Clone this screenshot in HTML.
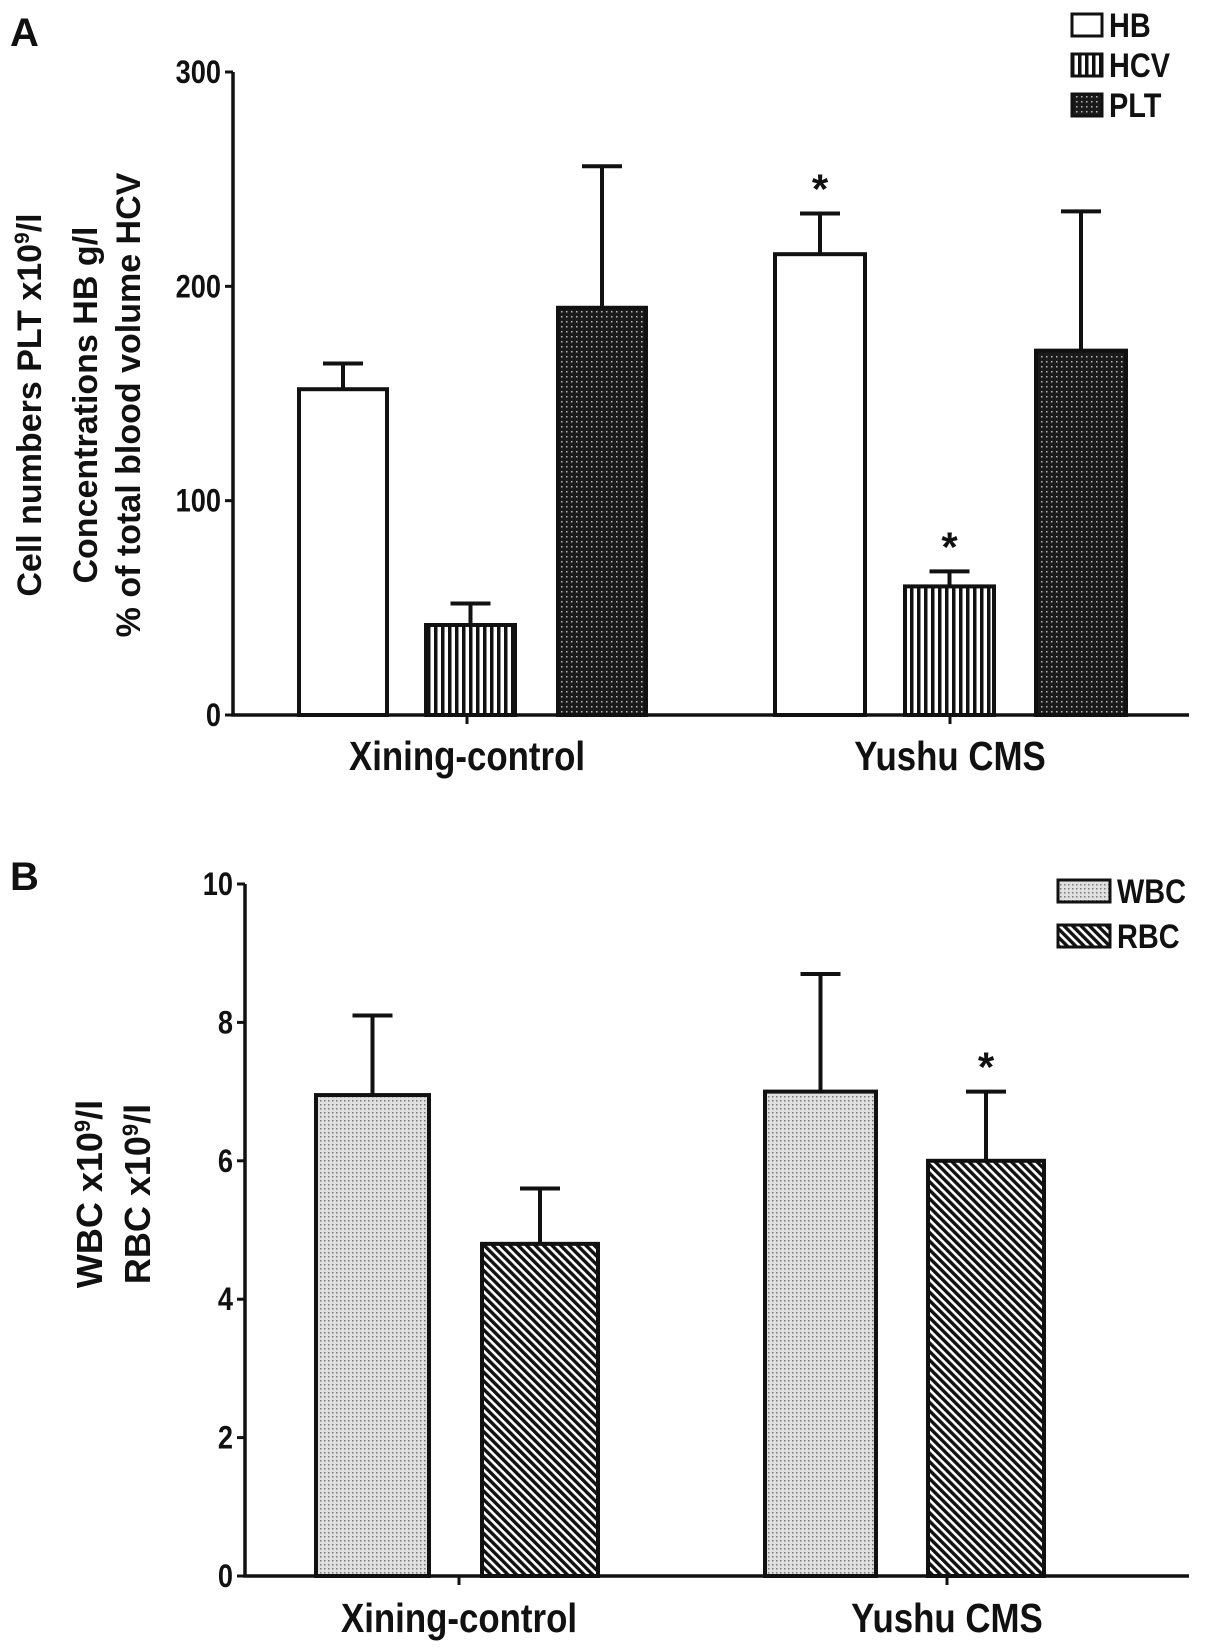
<!DOCTYPE html>
<html><head><meta charset="utf-8"><style>
html,body{margin:0;padding:0;background:#fff;}
svg{display:block;}
text{font-family:"Liberation Sans",Arial,sans-serif;font-weight:bold;fill:#111;}
</style></head><body>
<svg id="c" width="1205" height="1651" viewBox="0 0 1205 1651">
<defs>
<pattern id="pStripe" width="7" height="7" patternUnits="userSpaceOnUse"><rect width="7" height="7" fill="#fff"/><rect width="3.5" height="7" fill="#111"/></pattern>
<pattern id="pDark" width="5" height="5" patternUnits="userSpaceOnUse"><rect width="5" height="5" fill="#1a1a1a"/><rect x="1" y="1" width="1.5" height="1.5" fill="#bbb"/></pattern>
<pattern id="pLight" width="4" height="4" patternUnits="userSpaceOnUse"><rect width="4" height="4" fill="#e0e0e0"/><rect x="0" y="0" width="1.5" height="1.5" fill="#777"/></pattern>
<pattern id="pHatch" width="6" height="6" patternUnits="userSpaceOnUse" patternTransform="rotate(-45)"><rect width="6" height="6" fill="#fff"/><rect width="3.4" height="6" fill="#111"/></pattern>
</defs>
<g id="gA"></g>
<g id="gB"></g>
</svg>
<script>
// Panel A data
const catsA = ["Xining-control", "Yushu CMS"];
const seriesA = ["HB", "HCV", "PLT"];
const hbVals = [152, 215];
const hbErr = [164, 234];
const hcvVals = [42, 60];
const hcvErr = [52, 67];
const pltVals = [190, 170];
const pltErr = [256, 235];
const sigA = [[false, false, false], [true, true, false]];
const ticksA = [0, 100, 200, 300];
// Panel B data
const catsB = ["Xining-control", "Yushu CMS"];
const seriesB = ["WBC", "RBC"];
const wbcVals = [6.95, 7.0];
const wbcErr = [8.1, 8.7];
const rbcVals = [4.8, 6.0];
const rbcErr = [5.6, 7.0];
const sigB = [[false, false], [false, true]];
const ticksB = [0, 2, 4, 6, 8, 10];

const NS = "http://www.w3.org/2000/svg";
function mk(parent, tag, attrs, txt) {
  const e = document.createElementNS(NS, tag);
  for (const k in attrs) e.setAttribute(k, attrs[k]);
  if (txt !== undefined) e.textContent = txt;
  parent.appendChild(e);
  return e;
}

function drawPanel(g, cfg) {
  const y = v => cfg.y0 - (v - cfg.vmin) / (cfg.vmax - cfg.vmin) * (cfg.y0 - cfg.y1);
  let t = mk(g, "text", {x: 10, y: cfg.letterY, "font-size": 40}, cfg.letter);
  
  
  const yt = mk(g, "text", {"font-size": cfg.titleSize, "text-anchor": "middle", transform: `translate(0,${cfg.titleY}) rotate(-90)`});
  
  
  cfg.titleLines.forEach((ln, i) => {
    const ts = mk(yt, "tspan", {x: 0, y: cfg.titleX[i]});
    ts.innerHTML = ln;
  });
  cfg.series.forEach((s, si) => {
    cfg.cats.forEach((c, ci) => {
      const [x0, x1] = cfg.barX[ci][si];
      const v = cfg.vals[si][ci], e = cfg.errs[si][ci];
      const eb = mk(g, "path", {d: `M${(x0+x1)/2},${y(v)} V${y(e)} M${(x0+x1)/2-20},${y(e)} H${(x0+x1)/2+20}`, stroke: "#111", "stroke-width": 4, fill: "none"});
      
      
      const r = mk(g, "rect", {x: x0, y: y(v), width: x1 - x0, height: y(cfg.vmin) - y(v), fill: cfg.fills[si], stroke: "#111", "stroke-width": 4});
      
      
      if (cfg.sig[ci][si]) {
        const st = mk(g, "text", {x: (x0+x1)/2, y: y(e) - 10, "font-size": 42, "text-anchor": "middle"}, "*");
        
        
      }
    });
  });
  const ax = mk(g, "path", {d: `M${cfg.ax},${y(cfg.vmax)} V${cfg.y0} H${cfg.axEnd}`, stroke: "#111", "stroke-width": 3.5, fill: "none"});
  
  
  cfg.ticks.forEach(tv => {
    const tk = mk(g, "line", {x1: cfg.ax - 8, x2: cfg.ax, y1: y(tv), y2: y(tv), stroke: "#111", "stroke-width": 3});
    
    
    const tl = mk(g, "text", {x: (cfg.ax - 12) / 0.85, y: y(tv) + 11, "font-size": 32, "text-anchor": "end", transform: "scale(0.85,1)"}, tv);
    
    
  });
  cfg.cats.forEach((c, ci) => {
    const cx = cfg.catX[ci];
    const tk = mk(g, "line", {x1: cx, x2: cx, y1: cfg.y0, y2: cfg.y0 + 9, stroke: "#111", "stroke-width": 3});
    
    
    const tl = mk(g, "text", {x: cx / 0.85, y: cfg.labY, "font-size": 41, "text-anchor": "middle", transform: "scale(0.85,1)"}, c);
    
    
  });
  cfg.series.forEach((s, si) => {
    const [bx, by] = [cfg.legX, cfg.legY[si]];
    const lb = mk(g, "rect", {x: bx, y: by, width: cfg.legW, height: 22, fill: cfg.fills[si], stroke: "#111", "stroke-width": 3});
    
    
    const lt = mk(g, "text", {x: (bx + cfg.legW + 7) / 0.85, y: by + 23, "font-size": 34, transform: "scale(0.85,1)"}, s);
    
    
  });
}

drawPanel(document.getElementById("gA"), {
  letter: "A", letterY: 46, vmin: 0, vmax: 300, y0: 715, y1: 72, ax: 233, axEnd: 1189,
  cats: catsA, series: seriesA,
  vals: [hbVals, hcvVals, pltVals], errs: [hbErr, hcvErr, pltErr], sig: sigA, ticks: ticksA,
  barX: [[[299,387],[426,515],[558,646]], [[775,865],[905,994],[1036,1126]]],
  fills: ["#fff", "url(#pStripe)", "url(#pDark)"],
  catX: [467, 950], labY: 770,
  legX: 1072, legY: [14, 54, 94], legW: 30,
  titleY: 405, titleX: [41, 97, 140], titleSize: 34,
  titleLines: ["Cell numbers PLT x10<tspan font-size='21' dy='-12'>9</tspan><tspan dy='12'>/l</tspan>", "Concentrations HB g/l", "% of total blood volume HCV"]
});
drawPanel(document.getElementById("gB"), {
  letter: "B", letterY: 890, vmin: 0, vmax: 10, y0: 1576, y1: 884, ax: 245, axEnd: 1189,
  cats: catsB, series: seriesB,
  vals: [wbcVals, rbcVals], errs: [wbcErr, rbcErr], sig: sigB, ticks: ticksB,
  barX: [[[316,429],[482,598]], [[765,876],[928,1044]]],
  fills: ["url(#pLight)", "url(#pHatch)"],
  catX: [459, 947], labY: 1632,
  legX: 1058, legY: [880, 925], legW: 52,
  titleY: 1194, titleX: [102, 150], titleSize: 36,
  titleLines: ["WBC x10<tspan font-size='22' dy='-12'>9</tspan><tspan dy='12'>/l</tspan>", "RBC x10<tspan font-size='22' dy='-12'>9</tspan><tspan dy='12'>/l</tspan>"]
});
</script>
</body></html>
